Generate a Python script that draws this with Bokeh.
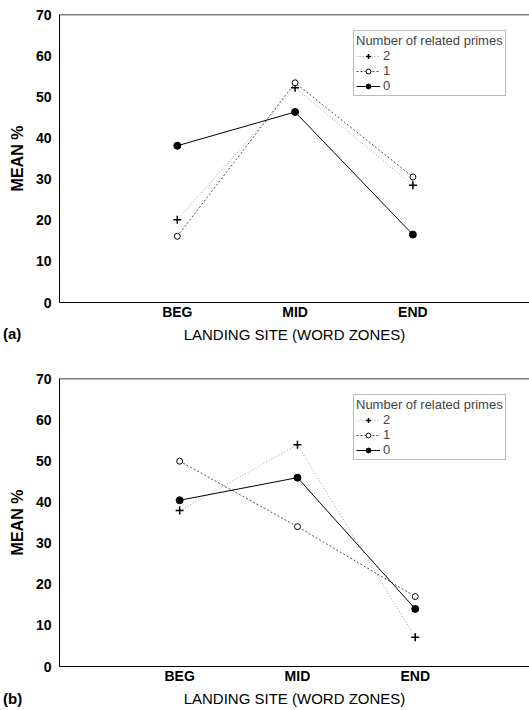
from bokeh.plotting import figure
from bokeh.models import Span, Legend, LegendItem, FixedTicker, Div
from bokeh.layouts import column
from bokeh.embed import file_html
from bokeh.resources import INLINE

categories = ["BEG", "MID", "END"]
series_names = ["2", "1", "0"]

a_two = [20.1, 52.2, 28.5]
a_one = [16.1, 53.4, 30.5]
a_zero = [38.1, 46.3, 16.5]

b_two = [37.9, 53.9, 7.1]
b_one = [49.9, 34.0, 17.0]
b_zero = [40.4, 45.9, 14.0]

y_ticks = [0, 10, 20, 30, 40, 50, 60, 70]
x_title = "LANDING SITE (WORD ZONES)"
y_title = "MEAN %"
legend_title = "Number of related primes"
panel_tags = ["(a)", "(b)"]

FONT = "Liberation Sans"


def make_panel(two, one, zero, x_start, x_end, b_left, b_top, height, b_bottom):
    xs = list(range(1, len(categories) + 1))
    p = figure(width=529, height=height, x_range=(x_start, x_end), y_range=(0, 70),
               output_backend="svg", toolbar_location=None,
               min_border_left=b_left, min_border_right=0,
               min_border_top=b_top, min_border_bottom=b_bottom)
    p.outline_line_color = None
    p.grid.visible = False
    p.background_fill_color = "white"

    p.yaxis.ticker = FixedTicker(ticks=y_ticks)
    p.xaxis.ticker = FixedTicker(ticks=xs)
    p.xaxis.major_label_overrides = {x: c for x, c in zip(xs, categories)}
    for ax in (p.xaxis, p.yaxis):
        ax.major_tick_line_color = None
        ax.minor_tick_line_color = None
        ax.major_tick_out = 0
        ax.major_tick_in = 0
        ax.minor_tick_out = 0
        ax.minor_tick_in = 0
        ax.axis_line_color = "black"
        ax.axis_line_width = 1
        ax.major_label_text_font = FONT
        ax.major_label_text_font_style = "bold"
        ax.major_label_text_font_size = "14px"
        ax.major_label_text_color = "black"
        ax.axis_label_text_font = FONT
        ax.axis_label_text_color = "black"
    p.yaxis.major_label_standoff = 8
    p.xaxis.major_label_standoff = 1
    p.xaxis.axis_label = x_title
    p.xaxis.axis_label_text_font_style = "normal"
    p.xaxis.axis_label_text_font_size = "15px"
    p.xaxis.axis_label_standoff = 3
    p.yaxis.axis_label = y_title
    p.yaxis.axis_label_text_font_style = "bold"
    p.yaxis.axis_label_text_font_size = "16px"
    p.yaxis.axis_label_standoff = 7

    p.add_layout(Span(location=70, dimension="width", line_color="black", line_width=1.5))

    r2 = p.line(xs, two, line_color="#a0a0a0", line_dash="1 2", line_width=1)
    m2 = p.scatter(xs, two, marker="cross", size=8, line_color="black", line_width=1.5)
    r1 = p.line(xs, one, line_color="#505050", line_dash="2 2", line_width=1)
    m1 = p.scatter(xs, one, marker="circle", size=6, line_color="black", fill_color="white", line_width=1)
    r0 = p.line(xs, zero, line_color="black", line_width=1)
    m0 = p.scatter(xs, zero, marker="circle", size=7, line_color="black", fill_color="black")

    legend = Legend(items=[LegendItem(label=series_names[0], renderers=[r2, m2]),
                           LegendItem(label=series_names[1], renderers=[r1, m1]),
                           LegendItem(label=series_names[2], renderers=[r0, m0])],
                    location=(294, 206), title=legend_title,
                    title_text_font=FONT, title_text_font_size="13px",
                    title_text_font_style="normal", title_standoff=0,
                    label_text_font=FONT, label_text_font_size="13px",
                    glyph_width=24, glyph_height=12, label_height=12,
                    label_standoff=3, spacing=0, padding=2, margin=0,
                    border_line_color="#777777", border_line_width=1,
                    background_fill_alpha=1)
    p.add_layout(legend, "center")
    return p


def tag_div(text):
    return Div(text=text, width=40, height=20, margin=(-21, 0, 1, 3),
               styles={"font-family": FONT, "font-weight": "bold",
                       "font-size": "15px", "color": "black", "line-height": "20px"})


pa = make_panel(a_two, a_one, a_zero, 0.0, 3.99, 59, 14, 345, 43)
pb = make_panel(b_two, b_one, b_zero, -0.02, 3.97, 57, 33, 365, 44)

layout = column(pa, tag_div(panel_tags[0]), pb, tag_div(panel_tags[1]), spacing=0)
open("out.html", "w").write(file_html(layout, INLINE))
